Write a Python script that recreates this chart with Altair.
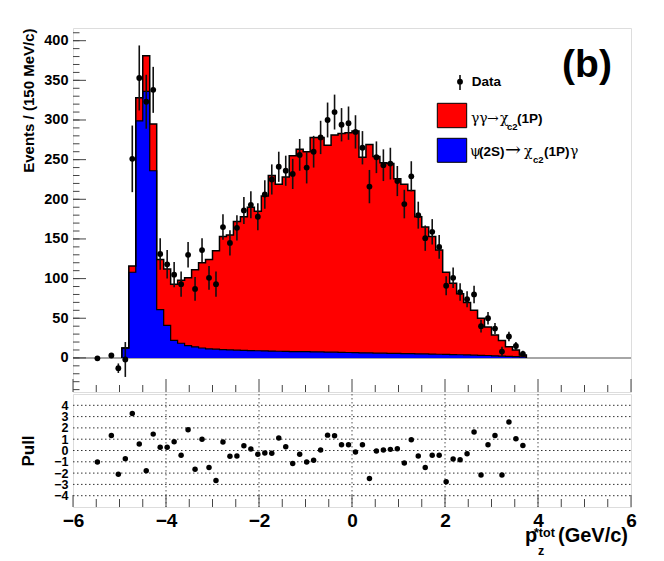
import altair as alt
import pandas as pd

# ---------------- data ----------------
X_MIN = -6.0
BIN_W = 0.15  # GeV/c

hist_bins = list(range(7, 65))
total_hist = [12.6, 116, 328, 381, 295, 124, 112, 93, 98, 101, 111, 120, 124, 135,
              153, 155, 172, 178, 190, 185, 204, 230, 219, 228, 255, 263, 260, 278,
              278, 268, 281, 283, 284, 286, 253, 269, 254, 246, 245, 226, 219, 211,
              178, 165, 153, 136, 108, 94, 81, 70, 60, 50, 39, 29, 22, 14, 10, 3.5]
blue_hist = [12.6, 108, 299, 336, 236, 61, 41, 22, 18.5, 15.5, 14, 12.5, 11.5, 11,
             10.5, 10, 9.8, 9.5, 9.2, 9, 8.8, 8.6, 8.4, 8.2, 8, 7.8, 7.8, 7.6, 7.5,
             7.3, 7.2, 7, 6.8, 6.6, 6.4, 6.3, 6.1, 6, 5.8, 5.6, 5.5, 5.3, 5.1, 5,
             4.8, 4.6, 4.4, 4.2, 4, 3.8, 3.5, 3.2, 3, 2.6, 2.3, 2, 1.6, 1.2]

data_bins = [3, 5] + list(range(6, 65))
data_vals = [-0.5, 3, -13, -2, 251, 353, 323, 338, 131, 118, 105, 93, 130, 87, 136,
             101, 93, 165, 145, 164, 186, 193, 178, 206, 225, 241, 236, 232, 256,
             240, 260, 278, 300, 310, 294, 296, 285, 265, 216, 253, 243, 245, 223,
             194, 229, 180, 151, 159, 140, 91, 101, 83, 74, 80, 40, 50, 37, 8, 27,
             15, 5]
data_errs = [2, 3, 6, 22, 42, 41, 34, 29, 20, 18, 16, 16, 16, 15, 15, 15, 16, 16,
             16, 16, 17, 17, 17, 18, 19, 19, 19, 19, 20, 20, 20, 21, 22, 22, 21, 21,
             21, 21, 21, 20, 20, 20, 19, 18, 19, 17, 16, 16, 15, 12, 13, 11, 10, 11,
             8, 8, 7, 6, 6, 5, 4]
pull_vals = [-1.01, 1.33, -2.1, -0.72, 3.27, 0.57, -1.8, 1.45, 0.28, 0.28, 0.78,
             -0.43, 1.83, -1.66, 1.0, -1.51, -2.65, 0.75, -0.51, -0.48, 0.43, 0.13,
             -0.34, -0.22, -0.25, 1.1, 0.34, -1.16, -0.34, -1.01, -0.87, 0.04, 1.36,
             1.30, 0.51, 0.51, -0.13, 0.51, -2.48, -0.04, 0.04, 0.10, 0.16, -1.1,
             0.95, -0.48, -1.51, -0.43, -0.43, -2.77, -0.75, -0.81, -0.28, 1.63,
             -2.16, 0.51, 1.33, -2.16, 2.53, 1.04, 0.45]

x_major = [-6, -4, -2, 0, 2, 4, 6]
x_minor = [-5.5, -5, -4.5, -3.5, -3, -2.5, -1.5, -1, -0.5, 0.5, 1, 1.5, 2.5, 3,
           3.5, 4.5, 5, 5.5]
x_grid = [-4, -2, 0, 2, 4]
y_major_top = [0, 50, 100, 150, 200, 250, 300, 350, 400]
y_minor_top = list(range(-40, 420, 10))
pull_ticks = [-4, -3, -2, -1, 0, 1, 2, 3, 4]

# ---------------- tables ----------------
lo_edges = [X_MIN + BIN_W * k for k in hist_bins]
last_edge = X_MIN + BIN_W * (hist_bins[-1] + 1)


def step_table(values):
    xs = lo_edges + [last_edge]
    ys = list(values) + [values[-1]]
    return pd.DataFrame({"x": xs, "y": ys, "b": [0.0] * len(xs)})


def outline(values):
    xs = [lo_edges[0]] + lo_edges + [last_edge]
    ys = [0.0] + list(values) + [0.0]
    return pd.DataFrame({"x": xs, "y": ys, "i": list(range(len(xs)))})


total_fill = step_table(total_hist)
blue_fill = step_table(blue_hist)
total_line = outline(total_hist)
blue_line = outline(blue_hist)

pts = pd.DataFrame({
    "x": [X_MIN + BIN_W * (k + 0.5) for k in data_bins],
    "v": data_vals,
    "e": data_errs,
    "pull": pull_vals,
})
pts["lo"] = pts["v"] - pts["e"]
pts["hi"] = pts["v"] + pts["e"]

FONT = "Liberation Sans"
SERIF = "DejaVu Serif"
W = 558
H_TOP = 364
H_BOT = 113

xscale = alt.Scale(domain=[-6, 6], nice=False, zero=False)
yscale_top = alt.Scale(domain=[-43, 416], nice=False, zero=False)
yscale_bot = alt.Scale(domain=[-5, 5], nice=False, zero=False)

y_top_axis = alt.Axis(values=y_major_top, format="d", title="Events / (150 MeV/c)",
                      ticks=False, domain=False, grid=False, labelFont=FONT,
                      labelFontSize=14.5, labelFontWeight="bold", labelPadding=5,
                      labelOverlap=False, labelFlush=False, titleFont=FONT,
                      titleFontSize=15, titleFontWeight="bold", titleAnchor="end",
                      titlePadding=7, titleColor="black", labelColor="black")


def XT(field):
    return alt.X(field, type="quantitative", scale=xscale, axis=None)


def YT(field):
    return alt.Y(field, type="quantitative", scale=yscale_top, axis=y_top_axis)


ann = pd.DataFrame({"a": [0]})


def txt(s, x, y, size, weight="bold", font=FONT, align="left"):
    return alt.Chart(ann).mark_text(text=s, align=align, baseline="alphabetic",
                                    font=font, fontSize=size, fontWeight=weight,
                                    color="black").encode(x=alt.value(x), y=alt.value(y))


zero_df = pd.DataFrame({"z": [0.0]})
zero_line = alt.Chart(zero_df).mark_rule(color="#888888", strokeWidth=1.5).encode(
    y=YT("z"), x=alt.value(0), x2=alt.value(W))

red_fill = alt.Chart(total_fill).mark_area(interpolate="step-after", color="#ff0000",
                                           opacity=1).encode(
    x=XT("x"), y=YT("y"), y2="b")
blu_fill = alt.Chart(blue_fill).mark_area(interpolate="step-after", color="#0000ff",
                                          opacity=1).encode(
    x=XT("x"), y=YT("y"), y2="b")
tot_out = alt.Chart(total_line).mark_line(interpolate="step-after", color="black",
                                          strokeWidth=1.5).encode(
    x=XT("x"), y=YT("y"), order="i:Q")
blue_out = alt.Chart(blue_line).mark_line(interpolate="step-after", color="black",
                                          strokeWidth=1.2).encode(
    x=XT("x"), y=YT("y"), order="i:Q")

ytm = pd.DataFrame({"v": y_major_top})
ytn = pd.DataFrame({"v": y_minor_top})
xtm = pd.DataFrame({"v": x_major})
xtn = pd.DataFrame({"v": x_minor})

tick_col = "#444444"
ytick_major = alt.Chart(ytm).mark_rule(color=tick_col, strokeWidth=1).encode(
    y=YT("v"), x=alt.value(0), x2=alt.value(13))
ytick_minor = alt.Chart(ytn).mark_rule(color=tick_col, strokeWidth=1).encode(
    y=YT("v"), x=alt.value(0), x2=alt.value(6.5))
xtick_major_t = alt.Chart(xtm).mark_rule(color=tick_col, strokeWidth=1).encode(
    x=XT("v"), y=alt.value(H_TOP), y2=alt.value(H_TOP - 13))
xtick_minor_t = alt.Chart(xtn).mark_rule(color=tick_col, strokeWidth=1).encode(
    x=XT("v"), y=alt.value(H_TOP), y2=alt.value(H_TOP - 7))

err_bars = alt.Chart(pts).mark_rule(color="#111111", strokeWidth=1.6).encode(
    x=XT("x"), y=YT("lo"), y2="hi")
dots = alt.Chart(pts).mark_point(filled=True, shape="circle", size=34, color="black",
                                 opacity=1).encode(x=XT("x"), y=YT("v"))

# legend
leg_bar = alt.Chart(ann).mark_rule(color="black", strokeWidth=1.5).encode(
    x=alt.value(387), y=alt.value(47), y2=alt.value(62))
leg_dot = alt.Chart(ann).mark_point(filled=True, shape="circle", size=34, color="black",
                                    opacity=1).encode(x=alt.value(387), y=alt.value(53.7))
leg_red = alt.Chart(ann).mark_rect(fill="#ff0000", stroke="black", strokeWidth=1).encode(
    x=alt.value(364.3), x2=alt.value(393.7), y=alt.value(75.3), y2=alt.value(99.7))
leg_blue = alt.Chart(ann).mark_rect(fill="#0000ff", stroke="black", strokeWidth=1).encode(
    x=alt.value(364.3), x2=alt.value(393.7), y=alt.value(110.3), y2=alt.value(134.3))

legend_texts = [
    txt("Data", 398.7, 58, 13.5),
    txt("γγ", 398, 95, 14, weight="normal", font=SERIF),
    txt("→", 414, 95, 14, weight="normal", font=SERIF),
    txt("χ", 427, 95, 14, weight="normal", font=SERIF),
    txt("c2", 434, 102, 9.5),
    txt("(1P)", 444, 95, 13.5),
    txt("ψ", 397, 127.5, 14, weight="normal", font=SERIF),
    txt("(2S)", 406, 127.5, 13.5),
    txt("→", 432, 127.5, 19, weight="normal", font=SERIF),
    txt("χ", 451, 127.5, 14, weight="normal", font=SERIF),
    txt("c2", 460, 134.5, 9.5),
    txt("(1P)", 471, 127.5, 13.5),
    txt("γ", 497, 127.5, 14, weight="normal", font=SERIF),
    txt("(b)", 514, 49, 39, align="center"),
]

top = alt.layer(zero_line, red_fill, blu_fill, tot_out, blue_out, ytick_minor,
                ytick_major, xtick_minor_t, xtick_major_t, err_bars, dots,
                leg_bar, leg_dot, leg_red, leg_blue, *legend_texts).properties(
    width=W, height=H_TOP)

# ---------------- pull panel ----------------
x_bot_axis = alt.Axis(values=x_major, format="d", title=None, ticks=False, domain=False,
                      grid=False, labelFont=FONT, labelFontSize=19,
                      labelFontWeight="bold", labelPadding=4, labelColor="black",
                      labelOverlap=False, labelFlush=False)
y_bot_axis = alt.Axis(values=pull_ticks, format="d", title="Pull", ticks=False,
                      domain=False, grid=False, labelFont=FONT, labelFontSize=12.5,
                      labelFontWeight="bold", labelPadding=5, labelOverlap=False,
                      labelFlush=False, labelColor="black", titleFont=FONT,
                      titleFontSize=17, titleFontWeight="bold", titlePadding=16,
                      titleColor="black")


def XB(field):
    return alt.X(field, type="quantitative", scale=xscale, axis=x_bot_axis)


def YB(field):
    return alt.Y(field, type="quantitative", scale=yscale_bot, axis=y_bot_axis)


hgrid = alt.Chart(pd.DataFrame({"v": pull_ticks})).mark_rule(
    color="#333333", strokeWidth=1, strokeDash=[1.5, 2.5]).encode(
    y=YB("v"), x=alt.value(0), x2=alt.value(W))
vgrid = alt.Chart(pd.DataFrame({"v": x_grid})).mark_rule(
    color="#555555", strokeWidth=1, strokeDash=[1.5, 2.5]).encode(
    x=XB("v"), y=alt.value(0), y2=alt.value(H_BOT))
xtick_major_b = alt.Chart(xtm).mark_rule(color=tick_col, strokeWidth=1).encode(
    x=XB("v"), y=alt.value(H_BOT), y2=alt.value(H_BOT - 12))
xtick_minor_b = alt.Chart(xtn).mark_rule(color=tick_col, strokeWidth=1).encode(
    x=XB("v"), y=alt.value(H_BOT), y2=alt.value(H_BOT - 8))
pull_dots = alt.Chart(pts).mark_point(filled=True, shape="circle", size=30,
                                      color="black", opacity=1).encode(
    x=XB("x"), y=YB("pull"))

xtitle = [
    txt("p", 452, 148, 20),
    txt("z", 465, 161, 12.5),
    txt("*tot", 461, 143, 12.5),
    txt("(GeV/c)", 485, 147.5, 20),
]

bottom = alt.layer(hgrid, vgrid, xtick_minor_b, xtick_major_b, pull_dots,
                   *xtitle).properties(width=W, height=H_BOT)

chart = alt.vconcat(top, bottom, spacing=0).properties(
    padding={"left": 11, "top": 19, "right": 10, "bottom": 2},
    background="white",
).configure_view(stroke="#222222", strokeWidth=1).configure(font=FONT)

chart.save("out.html", embed_options={"renderer": "svg", "actions": False})
